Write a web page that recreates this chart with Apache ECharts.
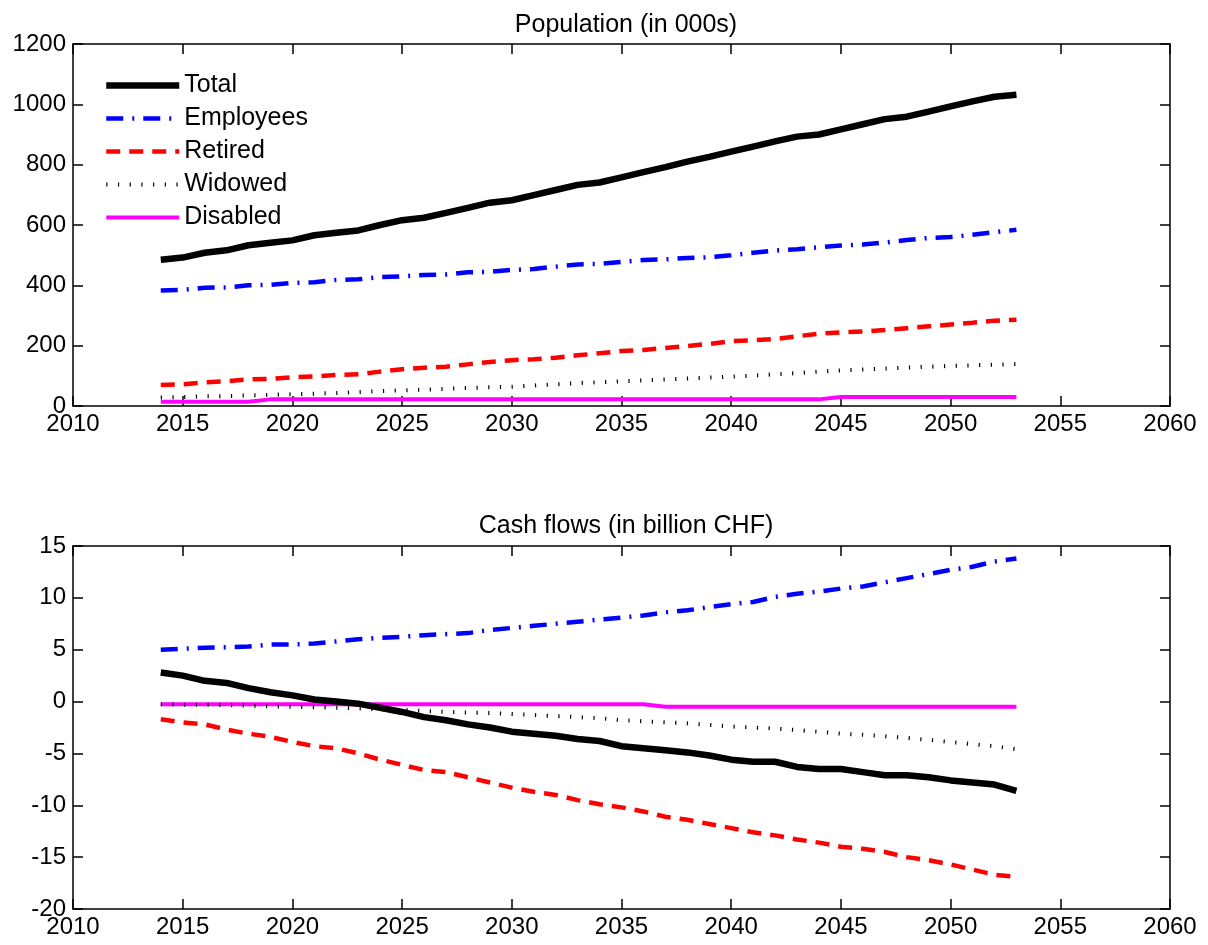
<!DOCTYPE html>
<html>
<head>
<meta charset="utf-8">
<script src="https://cdn.jsdelivr.net/npm/echarts@6.0.0/dist/echarts.min.js"></script>
<style>
  html, body { margin: 0; padding: 0; background: #fff; }
  #chart { width: 1208px; height: 945px; }
</style>
</head>
<body>
<div id="chart"></div>
<script>
// years 2014 .. 2053
var years = [2014, 2015, 2016, 2017, 2018, 2019, 2020, 2021, 2022, 2023,
             2024, 2025, 2026, 2027, 2028, 2029, 2030, 2031, 2032, 2033,
             2034, 2035, 2036, 2037, 2038, 2039, 2040, 2041, 2042, 2043,
             2044, 2045, 2046, 2047, 2048, 2049, 2050, 2051, 2052, 2053];

// Population (in 000s)
var popTotal = [485, 492, 508, 516, 533, 541, 549, 566, 574, 582,
                600, 616, 624, 640, 657, 674, 682, 699, 716, 733,
                741, 758, 775, 792, 810, 826, 843, 860, 877, 893,
                900, 917, 934, 951, 959, 976, 993, 1010, 1025, 1032];
var popEmployees = [383, 385, 392, 393, 400, 402, 408, 410, 418, 420,
                    427, 430, 434, 436, 443, 445, 451, 454, 462, 469,
                    471, 478, 484, 486, 491, 493, 500, 508, 515, 520,
                    526, 532, 535, 542, 550, 557, 560, 568, 576, 584];
var popRetired = [70, 72, 78, 82, 88, 90, 95, 98, 103, 105,
                  114, 122, 127, 130, 138, 146, 152, 155, 160, 168,
                  175, 182, 186, 192, 199, 206, 215, 218, 222, 231,
                  240, 244, 247, 252, 258, 264, 270, 276, 283, 286];
var popWidowed = [28, 30, 32, 33, 35, 37, 39, 41, 43, 46,
                  49, 52, 54, 57, 60, 62, 64, 68, 72, 76,
                  79, 82, 85, 88, 91, 94, 97, 101, 105, 109,
                  114, 118, 121, 124, 127, 130, 133, 135, 137, 139];
var popDisabled = [14, 14, 14, 14, 14, 22, 22, 22, 22, 22,
                   22, 22, 22, 22, 22, 22, 22, 22, 22, 22,
                   22, 22, 22, 22, 22, 22, 22, 22, 22, 22,
                   22, 30, 30, 30, 30, 30, 30, 30, 30, 30];

// Cash flows (in billion CHF)
var cfTotal = [2.8, 2.5, 2.0, 1.8, 1.3, 0.9, 0.6, 0.2, 0.0, -0.2,
               -0.6, -1.0, -1.5, -1.8, -2.2, -2.5, -2.9, -3.1, -3.3, -3.6,
               -3.8, -4.3, -4.5, -4.7, -4.9, -5.2, -5.6, -5.8, -5.8, -6.3,
               -6.5, -6.5, -6.8, -7.1, -7.1, -7.3, -7.6, -7.8, -8.0, -8.6];
var cfEmployees = [5.0, 5.1, 5.2, 5.25, 5.3, 5.5, 5.5, 5.6, 5.8, 6.0,
                   6.15, 6.25, 6.4, 6.5, 6.6, 6.9, 7.1, 7.3, 7.5, 7.7,
                   7.9, 8.1, 8.3, 8.6, 8.8, 9.1, 9.4, 9.6, 10.1, 10.4,
                   10.6, 10.9, 11.1, 11.5, 11.9, 12.3, 12.7, 13.0, 13.5, 13.8];
var cfRetired = [-1.7, -2.0, -2.2, -2.7, -3.1, -3.4, -3.9, -4.3, -4.5, -5.0,
                 -5.6, -6.1, -6.6, -6.8, -7.3, -7.8, -8.3, -8.7, -9.0, -9.5,
                 -9.9, -10.2, -10.6, -11.1, -11.4, -11.8, -12.2, -12.6, -12.9, -13.3,
                 -13.6, -14.0, -14.2, -14.5, -15.0, -15.3, -15.7, -16.2, -16.7, -16.9];
var cfWidowed = [-0.25, -0.3, -0.3, -0.35, -0.4, -0.45, -0.5, -0.55, -0.6, -0.65,
                 -0.75, -0.8, -0.9, -1.0, -1.05, -1.1, -1.2, -1.3, -1.4, -1.5,
                 -1.6, -1.8, -1.9, -2.0, -2.1, -2.25, -2.4, -2.5, -2.6, -2.75,
                 -2.9, -3.1, -3.2, -3.35, -3.5, -3.7, -3.9, -4.1, -4.3, -4.6];
var cfDisabled = [-0.25, -0.25, -0.25, -0.25, -0.25, -0.25, -0.25, -0.25, -0.25, -0.25,
                  -0.25, -0.25, -0.25, -0.25, -0.25, -0.25, -0.25, -0.25, -0.25, -0.25,
                  -0.25, -0.25, -0.25, -0.5, -0.5, -0.5, -0.5, -0.5, -0.5, -0.5,
                  -0.5, -0.5, -0.5, -0.5, -0.5, -0.5, -0.5, -0.5, -0.5, -0.5];

var names = ['Total', 'Employees', 'Retired', 'Widowed', 'Disabled'];

var font = 'Liberation Sans, Arial, Helvetica, sans-serif';

// line looks, same order as names
var looks = [
    {color: '#000000', width: 6.5, type: 'solid'},
    {color: '#0000ff', width: 4.5, type: [17, 9, 2, 9]},
    {color: '#ff0000', width: 4.5, type: [14, 9]},
    {color: '#000000', width: 4, type: [1.2, 10.5]},
    {color: '#ff00ff', width: 4, type: 'solid'}
];

function pairs(vals) {
    return years.map(function (y, i) { return [y, vals[i]]; });
}

function mkSeries(idx, vals, axisIdx) {
    var lk = looks[idx];
    return {
        name: names[idx],
        type: 'line',
        xAxisIndex: axisIdx,
        yAxisIndex: axisIdx,
        symbol: 'none',
        animation: false,
        color: lk.color,
        lineStyle: {color: lk.color, width: lk.width, type: lk.type, cap: 'butt'},
        data: pairs(vals),
        z: 5 - idx
    };
}

function plain(v) { return String(v); }

function xAx(gridIdx, pos, labels) {
    return {
        type: 'value', gridIndex: gridIdx, position: pos,
        min: 2010, max: 2060, interval: 5,
        axisLine: {show: true, onZero: false, lineStyle: {color: '#000', width: 1.5}},
        axisTick: {show: true, inside: true, length: 10, lineStyle: {color: '#000', width: 1.5}},
        axisLabel: {show: labels, color: '#000', fontSize: 24, fontFamily: font, margin: 6, formatter: plain},
        splitLine: {show: false}
    };
}

function yAx(gridIdx, pos, labels, mn, mx, step) {
    return {
        type: 'value', gridIndex: gridIdx, position: pos,
        min: mn, max: mx, interval: step,
        axisLine: {show: true, onZero: false, lineStyle: {color: '#000', width: 1.5}},
        axisTick: {show: true, inside: true, length: 10, lineStyle: {color: '#000', width: 1.5}},
        axisLabel: {show: labels, color: '#000', fontSize: 24, fontFamily: font, margin: 7, formatter: plain},
        splitLine: {show: false}
    };
}

var chart = echarts.init(document.getElementById('chart'));

var option = {
    backgroundColor: '#ffffff',
    animation: false,
    title: [
        {text: 'Population (in 000s)', left: 621, top: 8, textAlign: 'center',
         textStyle: {fontSize: 25, fontWeight: 'normal', color: '#000', fontFamily: font}},
        {text: 'Cash flows (in billion CHF)', left: 621, top: 509, textAlign: 'center',
         textStyle: {fontSize: 25, fontWeight: 'normal', color: '#000', fontFamily: font}}
    ],
    legend: {
        data: names.map(function (n, i) {
            return {name: n, lineStyle: {width: looks[i].width, type: looks[i].type, color: looks[i].color}};
        }),
        orient: 'vertical',
        left: 98, top: 68,
        itemWidth: 73, itemHeight: 25, itemGap: 8,
        itemStyle: {opacity: 0},
        textStyle: {fontSize: 25, color: '#000', fontFamily: font},
        selectedMode: false
    },
    grid: [
        {left: 73, right: 38, top: 44, height: 362},
        {left: 73, right: 38, top: 546, height: 363}
    ],
    xAxis: [
        xAx(0, 'bottom', true), xAx(1, 'bottom', true),
        xAx(0, 'top', false), xAx(1, 'top', false)
    ],
    yAxis: [
        yAx(0, 'left', true, 0, 1200, 200), yAx(1, 'left', true, -20, 15, 5),
        yAx(0, 'right', false, 0, 1200, 200), yAx(1, 'right', false, -20, 15, 5)
    ],
    series: [
        mkSeries(0, popTotal, 0),
        mkSeries(1, popEmployees, 0),
        mkSeries(2, popRetired, 0),
        mkSeries(3, popWidowed, 0),
        mkSeries(4, popDisabled, 0),
        mkSeries(0, cfTotal, 1),
        mkSeries(1, cfEmployees, 1),
        mkSeries(2, cfRetired, 1),
        mkSeries(3, cfWidowed, 1),
        mkSeries(4, cfDisabled, 1)
    ]
};
chart.setOption(option);
</script>
</body>
</html>
